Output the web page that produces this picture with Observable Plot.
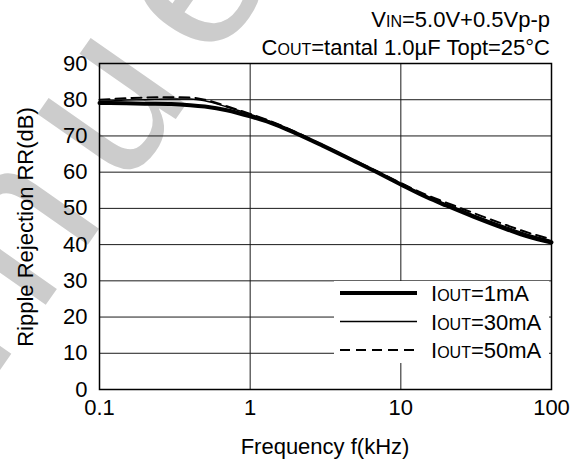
<!DOCTYPE html>
<html>
<head>
<meta charset="utf-8">
<script src="https://cdn.jsdelivr.net/npm/d3@7"></script>
<script src="https://cdn.jsdelivr.net/npm/@observablehq/plot@0.6"></script>
<style>
  html, body { margin: 0; padding: 0; background: #fff; }
  #chart svg { display: block; }
</style>
</head>
<body>
<div id="chart"></div>
<script>
// Frequency (kHz)
const freq = [0.1, 0.15, 0.2, 0.3, 0.4, 0.5, 0.7, 1, 1.5, 2, 3, 5, 7, 10, 15, 20, 30, 50, 70, 100];
// Ripple rejection RR (dB)
const rr1mA  = [79.1, 79.0, 78.9, 78.8, 78.5, 78.1, 77.1, 75.4, 73.0, 70.8, 67.4, 62.9, 59.9, 56.6, 53.0, 50.8, 47.8, 44.3, 42.2, 40.6];
const rr30mA = [79.6, 79.9, 80.0, 80.2, 80.2, 79.7, 78.0, 76.0, 73.3, 71.0, 67.5, 63.0, 60.1, 56.8, 53.3, 51.2, 48.3, 44.9, 42.8, 41.1];
const rr50mA = [80.0, 80.4, 80.6, 80.7, 80.6, 80.0, 78.2, 76.1, 73.4, 71.1, 67.6, 63.1, 60.2, 57.0, 53.6, 51.6, 48.8, 45.4, 43.3, 41.5];

const xTicks = [0.1, 1, 10, 100];
const xTickLabels = ["0.1", "1", "10", "100"];
const yTicks = [0, 10, 20, 30, 40, 50, 60, 70, 80, 90];

const seriesNames = ["1mA", "30mA", "50mA"];
const seriesValues = [rr1mA, rr30mA, rr50mA];

const xLabel = "Frequency f(kHz)";
const yLabel = "Ripple Rejection RR(dB)";
const watermark = "Discontinued";

const FONT = "'Liberation Sans', Arial, Helvetica, sans-serif";

const rows = (i) => freq.map((f, j) => ({f, rr: seriesValues[i][j]}));

const lineStyles = [
  {stroke: "#000", strokeWidth: 4, strokeDasharray: null},
  {stroke: "#000", strokeWidth: 1.4, strokeDasharray: null},
  {stroke: "#000", strokeWidth: 2, strokeDasharray: "10,6"}
];

const chart = Plot.plot({
  width: 584,
  height: 464,
  marginLeft: 99,
  marginRight: 33,
  marginTop: 63,
  marginBottom: 75,
  style: {fontFamily: FONT, fontSize: "22px", color: "#000", background: "transparent", overflow: "hidden"},
  x: {type: "log", domain: [0.1, 100], ticks: xTicks, tickFormat: (d) => xTickLabels[xTicks.indexOf(d)] ?? "", tickSize: 0, tickPadding: 10, label: null},
  y: {domain: [0, 90], ticks: yTicks, tickSize: 0, tickPadding: 12, label: null},
  marks: [
    Plot.gridX(xTicks, {stroke: "#1a1a1a", strokeOpacity: 1, strokeWidth: 1}),
    Plot.gridY(yTicks, {stroke: "#1a1a1a", strokeOpacity: 1, strokeWidth: 1}),
    ...seriesNames.map((name, i) => Plot.line(rows(i), {
      x: "f", y: "rr", curve: "monotone-x",
      stroke: lineStyles[i].stroke,
      strokeWidth: lineStyles[i].strokeWidth,
      strokeDasharray: lineStyles[i].strokeDasharray
    })),
    Plot.frame({stroke: "#000", strokeWidth: 1.5})
  ]
});

const svg = d3.select(chart);

// watermark behind everything
svg.insert("text", ":first-child")
  .attr("transform", "translate(200,-15) rotate(-55)")
  .attr("x", -1388).attr("y", 57)
  .attr("text-anchor", "start")
  .attr("letter-spacing", 30)
  .attr("font-family", FONT).attr("font-size", 220)
  .attr("fill", "#cccccc")
  .text(watermark);
svg.insert("rect", ":first-child")
  .attr("x", 0).attr("y", 0).attr("width", 584).attr("height", 464).attr("fill", "#fff");

// Conditions (top right)
const cond1 = svg.append("text").attr("x", 550).attr("y", 26.5)
  .attr("text-anchor", "end").attr("font-family", FONT).attr("font-size", 22).attr("fill", "#000");
cond1.append("tspan").text("V");
cond1.append("tspan").attr("font-size", 16).text("IN");
cond1.append("tspan").text("=5.0V+0.5Vp-p");

const cond2 = svg.append("text").attr("x", 550).attr("y", 54.5)
  .attr("text-anchor", "end").attr("font-family", FONT).attr("font-size", 22).attr("fill", "#000");
cond2.append("tspan").text("C");
cond2.append("tspan").attr("font-size", 16).text("OUT");
cond2.append("tspan").text("=tantal 1.0\u00B5F Topt=25\u00B0C");

// Axis titles
svg.append("text").attr("x", 325).attr("y", 454)
  .attr("text-anchor", "middle").attr("font-family", FONT).attr("font-size", 22).attr("fill", "#000")
  .text(xLabel);
svg.append("text").attr("transform", "translate(33,227) rotate(-90)")
  .attr("text-anchor", "middle").attr("font-family", FONT).attr("font-size", 22).attr("fill", "#000")
  .text(yLabel);

// Legend
const lg = svg.append("g");
lg.append("rect").attr("x", 334).attr("y", 281).attr("width", 215).attr("height", 82).attr("fill", "#fff");
const legendY = [293, 321.5, 350];
seriesNames.forEach((name, i) => {
  const st = lineStyles[i];
  lg.append("line").attr("x1", 340).attr("x2", 417).attr("y1", legendY[i]).attr("y2", legendY[i])
    .attr("stroke", st.stroke).attr("stroke-width", st.strokeWidth)
    .attr("stroke-dasharray", st.strokeDasharray);
  const t = lg.append("text").attr("x", 431).attr("y", legendY[i] + 8)
    .attr("text-anchor", "start")
    .attr("font-family", FONT).attr("font-size", 22).attr("fill", "#000");
  t.append("tspan").text("I");
  t.append("tspan").attr("font-size", 16).text("OUT");
  t.append("tspan").text("=" + name);
});

document.getElementById("chart").appendChild(chart);
</script>
</body>
</html>
